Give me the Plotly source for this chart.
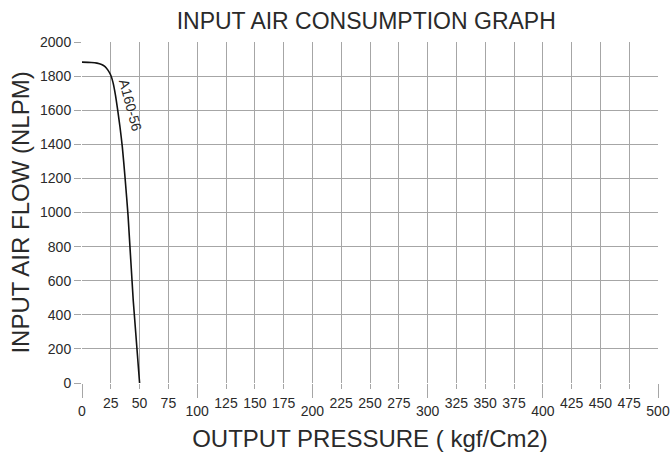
import plotly.graph_objects as go

# Data
pressure = [0, 8, 13, 17, 20, 22.5, 25, 27, 29, 31, 33, 35, 37.3, 40, 44.5, 50]
flow = [1882, 1880, 1876, 1868, 1856, 1835, 1805, 1760, 1690, 1600, 1500, 1385, 1210, 980, 482, 0]
series_name = "A160-56"

x_minor_ticks = [v for v in range(0, 501, 25)]
x_minor_labels = ["" if v % 100 == 0 else str(v) for v in x_minor_ticks]
x_major_ticks = list(range(0, 501, 100))
x_major_labels = [str(v) for v in x_major_ticks]
y_ticks = list(range(0, 2001, 200))

grid_col = "#a6a6a6"
text_col = "#2a2a2a"
font_fam = "Liberation Sans, Arial, sans-serif"

fig = go.Figure()
fig.add_trace(go.Scatter(
    x=pressure, y=flow, mode="lines", name=series_name,
    line=dict(color="#111111", width=1.6, shape="spline", smoothing=0.6),
    showlegend=False,
))
# invisible trace on second x axis so it renders
fig.add_trace(go.Scatter(x=[0, 500], y=[None, None], xaxis="x2", mode="lines",
                         showlegend=False, hoverinfo="skip"))

fig.add_annotation(
    x=42, y=1630, text=series_name, showarrow=False, textangle=75,
    font=dict(size=14, color=text_col, family=font_fam),
)

fig.update_layout(
    width=672, height=455,
    margin=dict(l=82, r=14, t=42, b=72),
    paper_bgcolor="white", plot_bgcolor="white",
    font=dict(family=font_fam, color=text_col),
    title=dict(text="INPUT AIR CONSUMPTION GRAPH", x=0.545, xanchor="center",
               y=0.955, yanchor="middle",
               font=dict(size=23, color=text_col, family=font_fam)),
    xaxis=dict(
        range=[0, 500], tickvals=x_minor_ticks, ticktext=x_minor_labels,
        showgrid=True, gridcolor=grid_col, gridwidth=1.3,
        ticks="outside", ticklen=5, tickcolor=grid_col, tickwidth=1.3,
        tickfont=dict(size=14, color=text_col), ticklabelstandoff=2,
        zeroline=False, showline=False, automargin=False,
        title=dict(text="OUTPUT PRESSURE ( kgf/Cm2)", font=dict(size=24, color=text_col),
                   standoff=20),
    ),
    xaxis2=dict(
        range=[0, 500], overlaying="x", side="bottom", anchor="y",
        tickvals=x_major_ticks, ticktext=x_major_labels,
        showgrid=False, ticks="outside", ticklen=14, tickcolor=grid_col, tickwidth=1.3,
        tickfont=dict(size=14, color=text_col), ticklabelstandoff=1,
        zeroline=False, showline=False, automargin=False,
        ticklabeloverflow="allow",
    ),
    yaxis=dict(
        range=[0, 2000], tickvals=y_ticks,
        showgrid=True, gridcolor=grid_col, gridwidth=1.3,
        ticks="outside", ticklen=7, tickcolor=grid_col, tickwidth=1.3,
        tickfont=dict(size=14, color=text_col),
        zeroline=False, showline=False, automargin=False,
        title=dict(text="INPUT AIR FLOW (NLPM)", font=dict(size=24, color=text_col),
                   standoff=3),
    ),
)

fig.write_html(
    "out.html",
    config={"displayModeBar": False},
    post_script="document.body.style.margin='0';document.body.style.overflow='hidden';",
)
